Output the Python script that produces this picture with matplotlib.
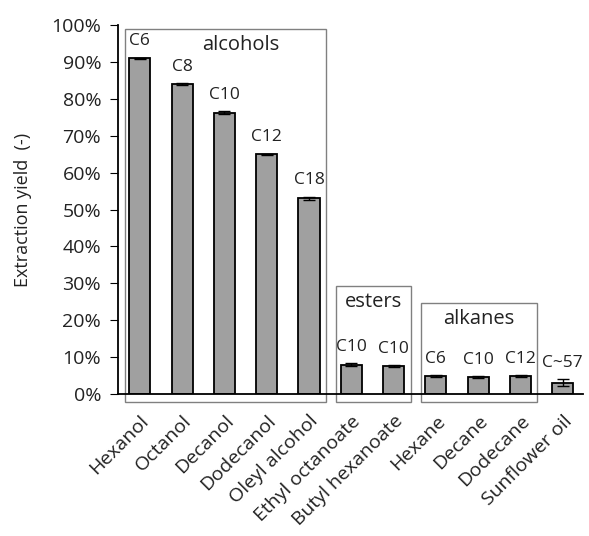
import numpy as np
import matplotlib.pyplot as plt
from matplotlib.patches import Rectangle
from matplotlib.ticker import PercentFormatter

plt.rcParams['font.family'] = ['Open Sans', 'DejaVu Sans']

solvents = ['Hexanol', 'Octanol', 'Decanol', 'Dodecanol', 'Oleyl alcohol',
            'Ethyl octanoate', 'Butyl hexanoate', 'Hexane', 'Decane',
            'Dodecane', 'Sunflower oil']
yield_pct = [91.0, 84.0, 76.2, 65.0, 53.1, 7.9, 7.5, 4.9, 4.6, 4.9, 3.1]
yield_err = [0.2, 0.2, 0.4, 0.2, 0.4, 0.4, 0.3, 0.3, 0.3, 0.3, 1.0]
carbon_labels = ['C6', 'C8', 'C10', 'C12', 'C18', 'C10', 'C10',
                 'C6', 'C10', 'C12', 'C~57']

# group name, first bar, last bar, box top (%)
groups = [('alcohols', 0, 4, 99.0), ('esters', 5, 6, 29.3), ('alkanes', 7, 9, 24.6)]

fig = plt.figure(figsize=(5.89, 5.36), dpi=100)
ax = fig.add_axes([0.200, 0.265, 0.790, 0.688])

x = np.arange(len(solvents))
ax.bar(x, yield_pct, width=0.5, color='#a0a0a0', edgecolor='black', linewidth=1.3,
       yerr=yield_err, capsize=4, error_kw=dict(ecolor='black', elinewidth=1, capthick=1))

for xi, v, e, lab in zip(x, yield_pct, yield_err, carbon_labels):
    ax.text(xi, v + e + 4.4, lab, ha='center', va='center', fontsize=12.5, color='#222222')

for name, i0, i1, top in groups:
    left = i0 - 0.36
    right = i1 + 0.4
    bottom = -2.3
    ax.add_patch(Rectangle((left, bottom), right - left, top - bottom, fill=False,
                           edgecolor='#808080', linewidth=1.0, clip_on=False, zorder=3))
    if name == 'alcohols':
        ax.text(2.38, 94.6, name, ha='center', va='center', fontsize=14.5, color='#222222')
    else:
        ax.text((left + right) / 2, top - 4.3, name, ha='center', va='center',
                fontsize=14.5, color='#222222')

ax.set_xlim(-0.52, 10.48)
ax.set_ylim(0, 100)
ax.set_yticks(np.arange(0, 101, 10))
ax.yaxis.set_major_formatter(PercentFormatter(decimals=0))
ax.set_ylabel('Extraction yield  (-)', fontsize=13, labelpad=14, color='#222222')
ax.set_xticks(x)
ax.set_xticklabels(solvents, rotation=45, ha='right', rotation_mode='anchor', fontsize=14)
ax.tick_params(axis='x', length=0, pad=13, labelcolor='#222222')
ax.tick_params(axis='y', labelsize=14, direction='out', length=6, pad=6, labelcolor='#222222')
for s in ['top', 'right']:
    ax.spines[s].set_visible(False)
ax.spines['left'].set_linewidth(1.3)
ax.spines['bottom'].set_linewidth(1.3)
ax.spines['bottom'].set_zorder(4)

fig.savefig('out.png', dpi=100)
